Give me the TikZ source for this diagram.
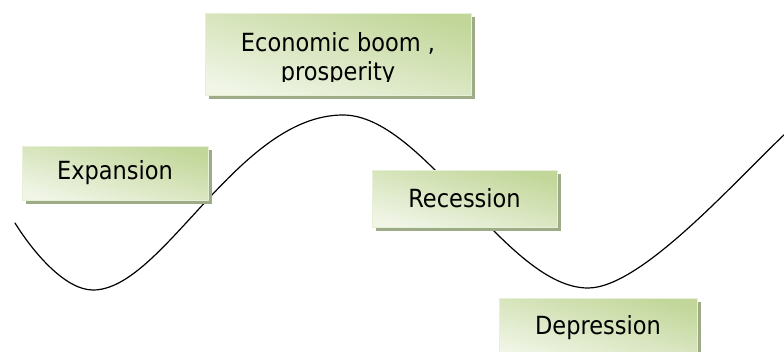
\documentclass[tikz,border=0pt]{standalone}
\usepackage{fontspec}
\setmainfont{DejaVu Sans}[FakeStretch=0.9]
\usetikzlibrary{shadows}
\definecolor{xdgreen}{rgb}{0.76,0.84,0.60}
\definecolor{xlgreen}{rgb}{0.94,0.96,0.90}
\definecolor{ttgreen}{rgb}{0.62,0.67,0.53}
\definecolor{wwgreen}{rgb}{0.90,0.94,0.84}

\begin{document}
\begin{tikzpicture}[line cap=round,line join=round,x=1pt,y=-1pt,
  stage/.style={draw=wwgreen,line width=0.8pt,top color=xdgreen,bottom color=xlgreen,shading angle=-15,
    drop shadow={shadow xshift=3.5pt,shadow yshift=-3.5pt,fill=ttgreen,opacity=1},
    inner sep=0pt,font=\fontsize{25}{29}\selectfont}]
\useasboundingbox (0,0) rectangle (784,351);
% the wave
\draw [line width=1.2pt] (15,223) .. controls (33,252) and (65,290) .. (93,290)
  .. controls (163,290) and (238,115) .. (343,115)
  .. controls (424,115) and (507,288) .. (588,288)
  .. controls (641,288) and (734,182) .. (786,133);
% the stages
\node[stage,minimum width=266pt,minimum height=82pt,
  path picture={\clip (path picture bounding box.north west) rectangle ([yshift=14pt]path picture bounding box.south east);
    \node[inner sep=0pt,minimum width=0pt,minimum height=0pt,align=center] (boomtext) at ([yshift=-5pt]path picture bounding box.center) {Economic boom ,\\ prosperity};}] (boom) at (338,54) {};
\node[stage,minimum width=186pt,minimum height=54pt] (expansion) at (115,173) {Expansion};
\node[stage,minimum width=185pt,minimum height=57pt] (recession) at (464.5,198.5) {Recession};
\node[stage,minimum width=198pt,minimum height=60pt] (depression) at (598,328) {Depression};
\end{tikzpicture}
\end{document}
